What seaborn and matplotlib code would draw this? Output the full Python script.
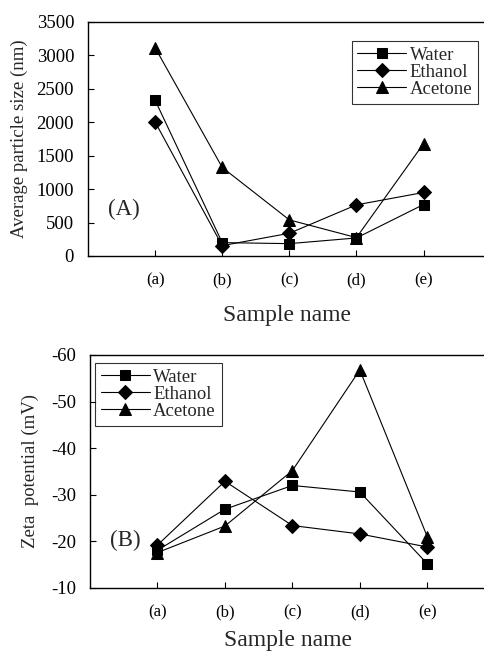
import numpy as np
import pandas as pd
import matplotlib
matplotlib.use("Agg")
import matplotlib.pyplot as plt
import seaborn as sns

samples = ["(a)", "(b)", "(c)", "(d)", "(e)"]
solvents = ["Water", "Ethanol", "Acetone"]

size_water = [2330, 200, 185, 270, 770]
size_ethanol = [2005, 155, 340, 765, 950]
size_acetone = [3115, 1325, 540, 275, 1680]

zeta_water = [-18.1, -26.9, -32.0, -30.6, -15.2]
zeta_ethanol = [-19.2, -32.9, -23.4, -21.6, -18.8]
zeta_acetone = [-17.6, -23.3, -35.2, -56.8, -21.0]

sns.set_theme(style="white")
plt.rcParams['font.family'] = ['Liberation Serif', 'DejaVu Serif']


def long_df(series):
    rows = []
    for name, vals in zip(solvents, series):
        for i, v in enumerate(vals):
            rows.append({"pos": i, "value": v, "solvent": name})
    return pd.DataFrame(rows)


df_a = long_df([size_water, size_ethanol, size_acetone])
df_b = long_df([zeta_water, zeta_ethanol, zeta_acetone])

fig = plt.figure(figsize=(4.85, 6.53), dpi=100)
ax1 = fig.add_axes([88/485, 1-256/653, 1-88/485+0.002, (256-22)/653])
ax2 = fig.add_axes([90/485, 1-588/653, 1-90/485+0.002, (588-355)/653])

markers = {"Water": "s", "Ethanol": "D", "Acetone": "^"}
sizes = {"Water": 6.5, "Ethanol": 7, "Acetone": 8}


def draw(ax, df):
    for name in solvents:
        sub = df[df.solvent == name]
        sns.lineplot(data=sub, x="pos", y="value", ax=ax, color="black",
                     marker=markers[name], markersize=sizes[name],
                     markeredgecolor="black", markerfacecolor="black",
                     linewidth=0.8, label=name, estimator=None, sort=False)
    ax.set_xticks(range(len(samples)))
    ax.set_xticklabels(samples, fontsize=12)
    ax.tick_params(axis="both", direction="in", length=4, width=0.8,
                   color="black", labelcolor="black")
    ax.tick_params(axis="x", pad=12)
    ax.tick_params(axis="y", labelsize=13.5, pad=10)
    ax.tick_params(axis="y", which="both", left=True)
    ax.tick_params(axis="x", bottom=True)
    ax.spines["right"].set_visible(False)
    for s in ["top", "left", "bottom"]:
        ax.spines[s].set_color("black")
        ax.spines[s].set_linewidth(1.0)


def style_legend(ax, loc, anchor):
    leg = ax.legend(loc=loc, bbox_to_anchor=anchor, fontsize=13.5,
                    frameon=True, fancybox=False, edgecolor="black",
                    handlelength=2.6, handletextpad=0.2, borderpad=0.3,
                    labelspacing=0.0, borderaxespad=0)
    leg.get_frame().set_linewidth(0.8)
    return leg


draw(ax1, df_a)
ax1.set_xlim(-1, 4.93)
ax1.set_ylim(0, 3500)
ax1.set_yticks(np.arange(0, 3501, 500))
ax1.set_xlabel("Sample name", fontsize=17, labelpad=12)
ax1.set_ylabel("Average particle size (nm)", fontsize=13.5, labelpad=6)
ax1.text(-0.47, 700, "(A)", fontsize=16.5, ha="center", va="center")
style_legend(ax1, "upper right", (0.98, 0.919))

draw(ax2, df_b)
ax2.set_xlim(-1, 4.87)
ax2.set_ylim(-10, -60)
ax2.set_yticks(np.arange(-60, -9, 10))
ax2.set_yticklabels([str(v) for v in range(-60, -9, 10)])
ax2.set_xlabel("Sample name", fontsize=17, labelpad=7)
ax2.set_ylabel("Zeta  potential (mV)", fontsize=13.5, labelpad=9)
ax2.text(-0.48, -20.3, "(B)", fontsize=16.5, ha="center", va="center")
style_legend(ax2, "upper left", (0.013, 0.966))

fig.savefig("out.png", dpi=100)
